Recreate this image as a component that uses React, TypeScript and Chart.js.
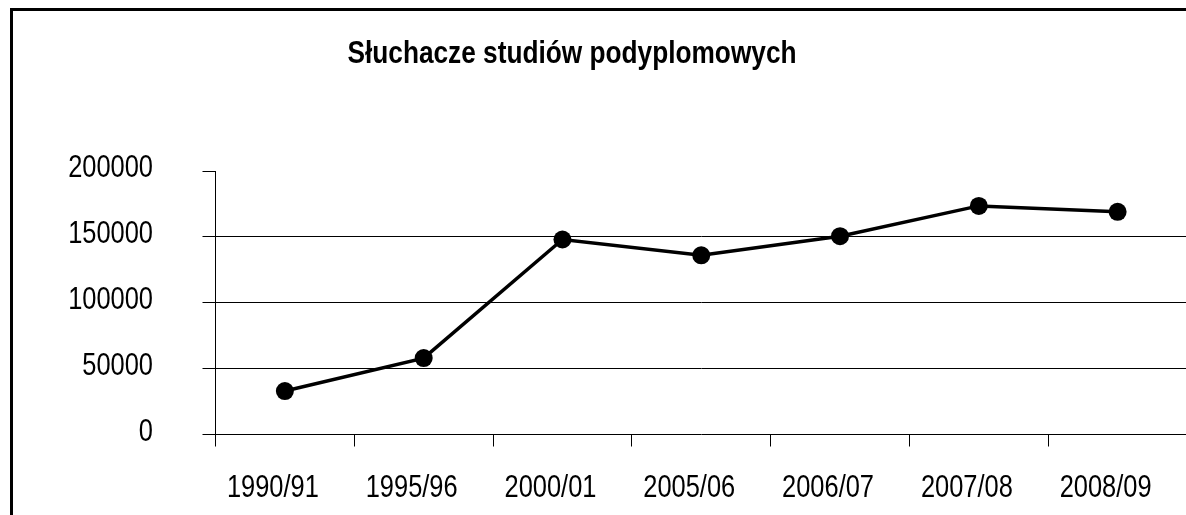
import React, { useEffect, useRef } from 'react';
import { Chart, registerables } from 'chart.js';

Chart.register(...registerables);

const TITLE = 'Słuchacze studiów podyplomowych';
const categories = ['1990/91', '1995/96', '2000/01', '2005/06', '2006/07', '2007/08', '2008/09'];
const values = [33000, 58000, 148000, 136000, 150500, 173500, 169000];
const yTicks = [0, 50000, 100000, 150000, 200000];

const FONT = "'Liberation Sans', Arial, sans-serif";
const NARROW = 0.82;

function narrowText(ctx: any, text: string, x: number, y: number, align: string, font: string) {
  ctx.save();
  ctx.font = font;
  ctx.fillStyle = '#000';
  ctx.textAlign = align;
  ctx.textBaseline = 'alphabetic';
  ctx.translate(x, y);
  ctx.scale(NARROW, 1);
  ctx.fillText(text, 0, 0);
  ctx.restore();
}

const labelPlugin = {
  id: 'narrowLabels',
  afterDraw(chart: any) {
    const ctx = chart.ctx;
    const xs = chart.scales.x;
    const ys = chart.scales.y;
    // title
    narrowText(ctx, TITLE, 559, 52, 'center', `bold 32px ${FONT}`);
    // y tick labels
    ys.ticks.forEach((t: any) => {
      const py = ys.getPixelForValue(t.value);
      narrowText(ctx, String(t.value), ys.right - 13 - 49.5, py + 6, 'right', `31px ${FONT}`);
    });
    // x tick labels
    categories.forEach((c, i) => {
      const px = xs.getPixelForValue(i);
      narrowText(ctx, c, px - 12, xs.top + 62, 'center', `31px ${FONT}`);
    });
  },
};

export default function App() {
  const ref = useRef<HTMLCanvasElement | null>(null);

  useEffect(() => {
    if (!ref.current) return;
    const chart = new Chart(ref.current, {
      type: 'line',
      data: {
        labels: categories,
        datasets: [
          {
            data: values,
            borderColor: '#000',
            borderWidth: 3.5,
            pointRadius: 9,
            pointHoverRadius: 9,
            pointBackgroundColor: '#000',
            pointBorderWidth: 0,
            tension: 0,
            fill: false,
            clip: false as any,
          },
        ],
      },
      options: {
        responsive: false,
        animation: false,
        devicePixelRatio: 1,
        layout: { padding: { top: 160, bottom: 20.5, left: 0, right: 16 } },
        plugins: {
          legend: { display: false },
          title: { display: false },
          tooltip: { enabled: false },
        },
        scales: {
          x: {
            type: 'category',
            offset: true,
            afterFit: (s: any) => {
              s.height = 60;
            },
            border: { display: true, color: '#000', width: 1 },
            grid: {
              offset: true,
              drawOnChartArea: false,
              drawTicks: true,
              tickLength: 12,
              tickColor: '#000',
              color: '#000',
            },
            ticks: { display: false, autoSkip: false, maxRotation: 0 },
          },
          y: {
            min: 0,
            max: 200000,
            afterBuildTicks: (s: any) => {
              s.ticks = yTicks.map((v) => ({ value: v }));
            },
            afterFit: (s: any) => {
              s.width = 202.5;
            },
            border: { display: true, color: '#000', width: 1 },
            grid: {
              color: (c: any) =>
                c.tick && (c.tick.value === 200000 || c.tick.value === 0) ? 'rgba(0,0,0,0)' : '#000',
              tickColor: '#000',
              tickLength: 13,
              lineWidth: 1,
              drawTicks: true,
            },
            ticks: { display: false },
          },
        },
      },
      plugins: [labelPlugin],
    });
    return () => chart.destroy();
  }, []);

  return (
    <div
      style={{
        position: 'fixed',
        left: 0,
        top: 0,
        width: '100vw',
        height: '100vh',
        overflow: 'hidden',
        background: '#fff',
      }}
    >
      <div
        style={{
          position: 'absolute',
          left: 10,
          top: 8,
          width: 1240,
          height: 560,
          border: '3px solid #000',
          boxSizing: 'content-box',
        }}
      >
        <canvas ref={ref} width={1190} height={504} style={{ display: 'block', width: 1190, height: 504 }} />
      </div>
    </div>
  );
}
